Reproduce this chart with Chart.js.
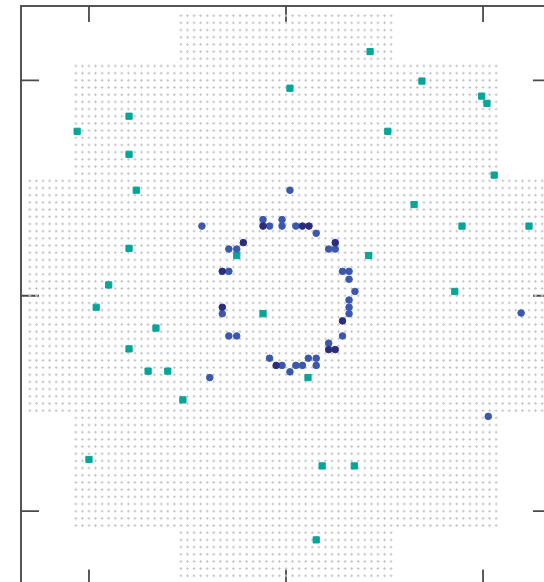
<!DOCTYPE html>
<html>
<head>
<meta charset="utf-8">
<script src="https://cdn.jsdelivr.net/npm/chart.js@4/dist/chart.umd.min.js"></script>
<style>
  html, body { margin: 0; padding: 0; background: #ffffff; overflow: hidden; width: 544px; height: 582px; }
  #wrap { position: absolute; left: 0; top: 0; width: 560px; height: 600px; }
</style>
</head>
<body>
<div id="wrap"><canvas id="c" width="560" height="600" style="width:560px;height:600px"></canvas></div>
<script>
// Axis ticks (data units)
const xTicks = [-30, 0, 30];
const yTicks = [-30, 0, 30];
const axisMin = -40.35;
const axisMax = 40.35;

// Background sampling mesh: stepped disk made of three bands
const bandXLimit = [16, 32, 39];
const bandYLimit = [39, 32, 16];

// Teal points
const tealX = [12.8, 20.7, 0.6, 29.8, 30.6, -23.9, -31.8, 15.5, -23.9, 31.7, -22.8, 19.5, 26.8, 37.0, -23.9, -7.5, 12.6, -27.0, 25.7, -28.9, -3.5, -19.8, -23.9, -21.0, -18.0, 3.35, -15.7, -30.0, 5.5, 10.4, 4.6];
const tealY = [34.0, 29.9, 28.9, 27.8, 26.8, 25.0, 22.9, 22.9, 19.7, 16.8, 14.7, 12.7, 9.7, 9.7, 6.6, 5.6, 5.6, 1.5, 0.6, -1.6, -2.5, -4.5, -7.4, -10.5, -10.5, -11.4, -14.5, -22.8, -23.7, -23.7, -34.0];

// Medium blue points
const blueX = [-12.8, -3.5, -2.5, -0.6, -0.6, 1.5, 4.6, -8.7, -7.5, 6.5, 7.5, -8.7, 8.6, 9.6, 9.6, 10.5, 9.6, 9.6, 9.6, -9.7, -8.7, -7.5, 8.6, 6.5, -2.5, 3.4, 4.6, -0.6, 1.5, 2.5, 4.6, 0.6, -11.6, 0.6, 35.8, 30.8];
const blueY = [9.7, 10.6, 9.7, 10.6, 9.7, 9.7, 8.7, 6.5, 6.5, 6.5, 6.5, 3.4, 3.4, 3.4, 2.3, 0.6, -0.6, -1.6, -2.5, -2.5, -5.6, -5.6, -5.6, -6.6, -8.7, -8.7, -8.7, -9.7, -9.7, -9.7, -9.7, -10.6, -11.4, 14.7, -2.4, -16.8];

// Dark navy points
const navyX = [-3.5, 2.5, 3.5, -6.5, 7.5, -9.7, -9.7, 8.6, 6.5, 7.5, -1.5];
const navyY = [9.7, 9.7, 9.7, 7.4, 7.4, 3.4, -1.6, -3.5, -7.5, -7.5, -9.7];

function zip(xs, ys) { return xs.map((x, k) => ({ x: x, y: ys[k] })); }

function meshPoints() {
  const pts = [];
  const maxX = Math.max(...bandXLimit);
  const maxY = Math.max(...bandYLimit);
  for (let j = maxY; j >= -maxY; j--) {
    for (let i = -maxX; i <= maxX; i++) {
      let inside = false;
      for (let k = 0; k < bandXLimit.length; k++) {
        if (Math.abs(i) <= bandXLimit[k] && Math.abs(j) <= bandYLimit[k]) { inside = true; break; }
      }
      if (inside) pts.push({ x: i, y: j });
    }
  }
  return pts;
}

const framePlugin = {
  id: 'frame',
  beforeDatasetsDraw(chart) {
    const ctx = chart.ctx;
    const a = chart.chartArea;
    const xs = chart.scales.x, ys = chart.scales.y;
    ctx.save();
    ctx.strokeStyle = '#555555';
    ctx.lineWidth = 2;
    ctx.strokeRect(a.left, a.top, a.right - a.left, a.bottom - a.top);
    ctx.lineWidth = 1.8;
    ctx.strokeStyle = '#4a4a4a';
    const vLen = 16, hLen = 18;
    xTicks.forEach(v => {
      const px = xs.getPixelForValue(v);
      ctx.beginPath();
      ctx.moveTo(px, a.top); ctx.lineTo(px, a.top + vLen);
      ctx.moveTo(px, a.bottom); ctx.lineTo(px, a.bottom - vLen);
      ctx.stroke();
    });
    yTicks.forEach(v => {
      const py = ys.getPixelForValue(v);
      ctx.beginPath();
      ctx.moveTo(a.left, py); ctx.lineTo(a.left + hLen, py);
      ctx.moveTo(a.right, py); ctx.lineTo(a.right - hLen, py);
      ctx.stroke();
    });
    ctx.restore();
  }
};

new Chart(document.getElementById('c'), {
  type: 'scatter',
  data: {
    datasets: [
      { label: 'navy', data: zip(navyX, navyY), pointStyle: 'circle', pointRadius: 3.3,
        backgroundColor: '#2a2d7c', borderColor: '#2a2d7c', borderWidth: 1, order: 0 },
      { label: 'blue', data: zip(blueX, blueY), pointStyle: 'circle', pointRadius: 3.3,
        backgroundColor: '#3b58ad', borderColor: '#3b58ad', borderWidth: 1, order: 1 },
      { label: 'teal', data: zip(tealX, tealY), pointStyle: 'rect', pointRadius: 4.4,
        backgroundColor: '#04a698', borderColor: '#04a698', borderWidth: 1, order: 2 },
      { label: 'mesh', data: meshPoints(), pointStyle: 'cross', pointRadius: 1.4,
        backgroundColor: '#c6c6c6', borderColor: '#c6c6c6', borderWidth: 1, order: 3 }
    ]
  },
  options: {
    responsive: false,
    animation: false,
    events: [],
    layout: { padding: { left: 21, top: 6, right: 9, bottom: 14.5 } },
    plugins: { legend: { display: false }, tooltip: { enabled: false } },
    scales: {
      x: { type: 'linear', min: axisMin, max: axisMax, display: false },
      y: { type: 'linear', min: axisMin, max: axisMax, display: false }
    }
  },
  plugins: [framePlugin]
});
</script>
</body>
</html>
